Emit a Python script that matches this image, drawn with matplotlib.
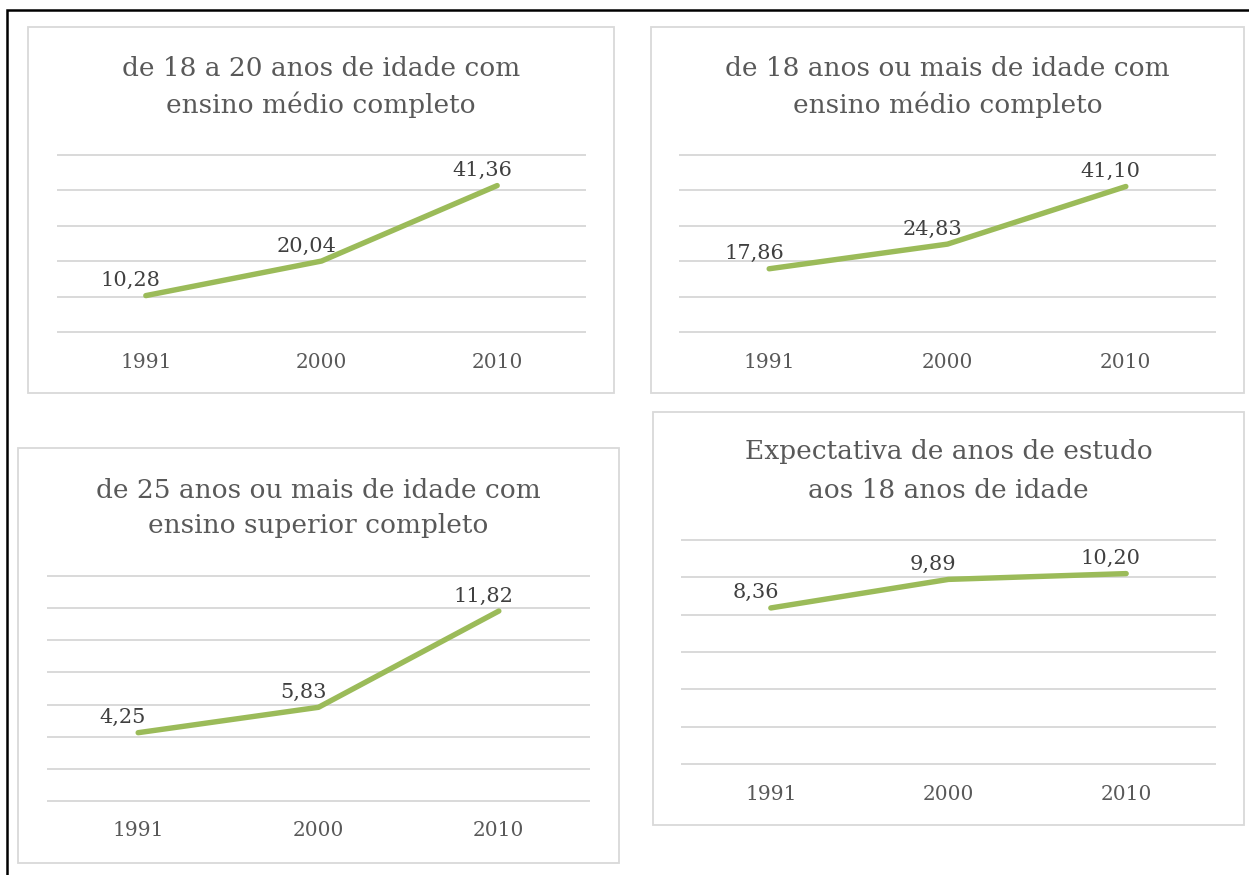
import matplotlib
matplotlib.use("Agg")
import matplotlib.pyplot as plt
from matplotlib.patches import Rectangle
from matplotlib.lines import Line2D

W, H = 1249, 875

years = ["1991", "2000", "2010"]
medio_18_20 = [10.28, 20.04, 41.36]
medio_18_mais = [17.86, 24.83, 41.10]
superior_25_mais = [4.25, 5.83, 11.82]
expectativa = [8.36, 9.89, 10.20]

titles = [
    ["de 18 a 20 anos de idade com", "ensino médio completo"],
    ["de 18 anos ou mais de idade com", "ensino médio completo"],
    ["de 25 anos ou mais de idade com", "ensino superior completo"],
    ["Expectativa de anos de estudo", "aos 18 anos de idade"],
]

GREEN = "#9BBB59"
GRID = "#D9D9D9"
TITLE_C = "#595959"
LABEL_C = "#404040"
FONT = "DejaVu Serif"

# border box, plot box, y max, y step, title line centres, tick label centre
panels = [
    dict(box=(28, 27, 614, 393), plot=(58, 155, 585, 332), ymax=50, step=10,
         ty=(69, 105), xy=362, data=medio_18_20, title=titles[0]),
    dict(box=(651, 27, 1244, 393), plot=(680, 155, 1215, 332), ymax=50, step=10,
         ty=(69, 105), xy=362, data=medio_18_mais, title=titles[1]),
    dict(box=(18, 448, 619, 863), plot=(48, 576, 589, 801), ymax=14, step=2,
         ty=(490, 526), xy=831, data=superior_25_mais, title=titles[2]),
    dict(box=(653, 412, 1244, 825), plot=(682, 540, 1215, 764), ymax=12, step=2,
         ty=(452, 490), xy=795, data=expectativa, title=titles[3]),
]


def fx(x):
    return x / W


def fy(y):
    return 1 - y / H


fig = plt.figure(figsize=(W / 100, H / 100), dpi=100)
fig.patch.set_facecolor("white")

# outer black frame (left and top only)
fig.add_artist(Line2D([fx(7), fx(7), fx(W)], [fy(H), fy(10), fy(10)],
                      color="black", lw=1.8, solid_joinstyle="miter"))

for p in panels:
    x0, y0, x1, y1 = p["box"]
    fig.add_artist(Rectangle((fx(x0), fy(y1)), fx(x1 - x0), (y1 - y0) / H,
                             fill=False, edgecolor=GRID, lw=1.3))

    px0, py0, px1, py1 = p["plot"]
    ax = fig.add_axes([fx(px0), fy(py1), fx(px1 - px0), (py1 - py0) / H])
    ax.set_xlim(-0.5, 2.5)
    ax.set_ylim(0, p["ymax"])
    for s in ax.spines.values():
        s.set_visible(False)
    ax.set_xticks([])
    ax.set_yticks([])
    ax.patch.set_alpha(0)
    for v in range(0, p["ymax"] + 1, p["step"]):
        ax.axhline(v, color=GRID, lw=1.4, zorder=1, clip_on=False)

    xs = list(range(len(years)))
    ax.plot(xs, p["data"], color=GREEN, lw=3.9, solid_capstyle="round",
            solid_joinstyle="round", zorder=3, clip_on=False)

    for i, v in enumerate(p["data"]):
        lbl = f"{v:.2f}".replace(".", ",")
        ax.annotate(lbl, (i, v), xytext=(-11, 4), textcoords="offset points",
                    ha="center", va="bottom", fontsize=15, family=FONT,
                    color=LABEL_C, zorder=4)
        fig.text(fx(px0 + (px1 - px0) * (i + 0.5) / 3), fy(p["xy"]), years[i],
                 ha="center", va="center", fontsize=14.5, family=FONT,
                 color=TITLE_C)

    cx = (x0 + x1) / 2
    for line, ty in zip(p["title"], p["ty"]):
        fig.text(fx(cx), fy(ty), line, ha="center", va="center",
                 fontsize=19, family=FONT, color=TITLE_C)

fig.savefig("out.png", dpi=100, facecolor="white")
